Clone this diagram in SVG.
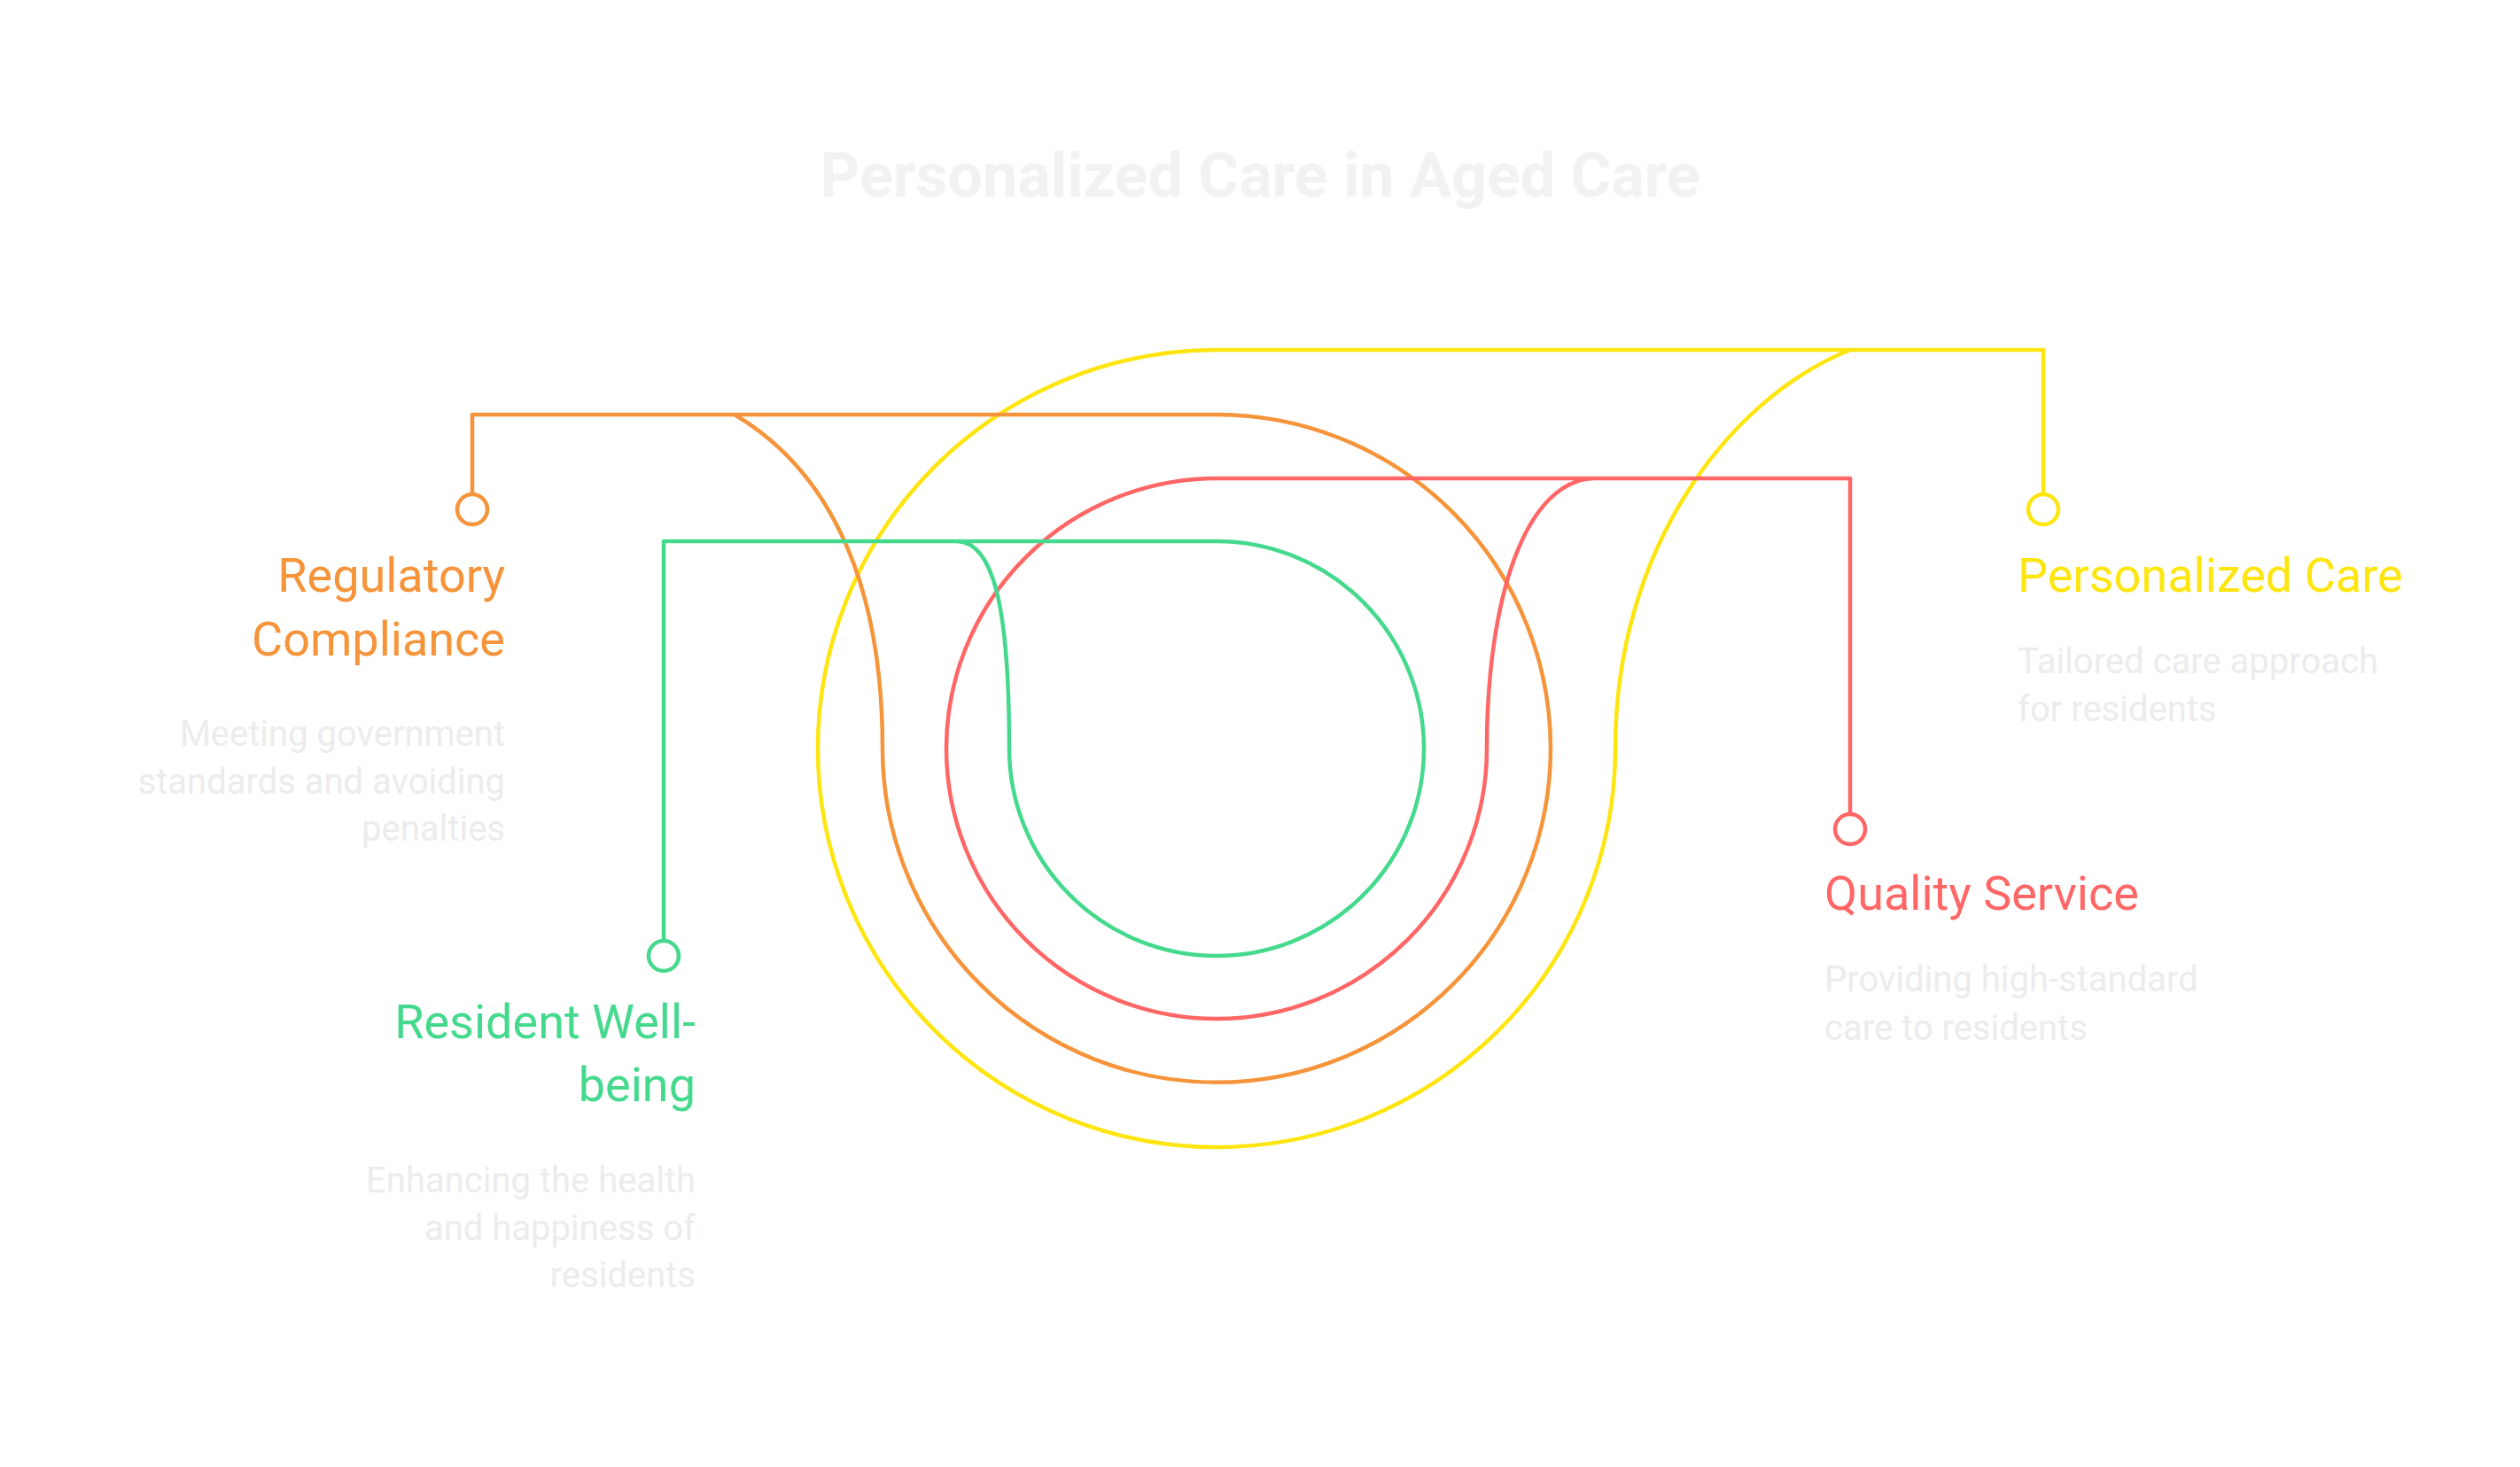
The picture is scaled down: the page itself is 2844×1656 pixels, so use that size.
<svg xmlns="http://www.w3.org/2000/svg" width="2844" height="1656" viewBox="0 0 2844 1656">
<style>
.l{fill:none;stroke-width:4.5;stroke-linejoin:round}
.d{fill:#fff;stroke-width:4.5}
.t{font-family:Roboto,"Liberation Sans",sans-serif;font-size:54px}
.s{font-family:Roboto,"Liberation Sans",sans-serif;font-size:40px;fill:#ececec}
.y{stroke:#FFE50F}.o{stroke:#F5943A}.r{stroke:#FF6666}.g{stroke:#45D98E}
</style>
<rect width="2844" height="1656" fill="#fff"/>
<text x="1422" y="222" text-anchor="middle" font-family="Roboto,'Liberation Sans',sans-serif" font-size="70" font-weight="bold" fill="#f2f2f2">Personalized Care in Aged Care</text>
<g id="connectors">
<path class="l y" d="M2306 557 V395 H1373 A450 450 0 0 0 923 845 A450 450 0 0 0 1823 845 C1823 620 1950 450 2088 395"/>
<path class="l o" d="M533 557 V468 H1373 A377 377 0 0 1 1750 845 A377 377 0 0 1 996 845 C996 640 925 525 829 468"/>
<path class="l r" d="M2088 918 V540 H1373 A305 305 0 0 0 1068 845 A305 305 0 0 0 1678 845 C1678 680 1720 540 1801 540"/>
<path class="l g" d="M749 1061 V611 H1373 A234 234 0 0 1 1607 845 A234 234 0 0 1 1139 845 C1139 680 1120 611 1079 611"/>
</g>
<g id="personalized-care">
<circle class="d y" cx="2306" cy="575" r="17"/>
<text class="t" x="2277" y="668" fill="#FFE50F">Personalized Care</text>
<text class="s" x="2277" y="760">Tailored care approach</text>
<text class="s" x="2277" y="814">for residents</text>
</g>
<g id="regulatory-compliance">
<circle class="d o" cx="533" cy="575" r="17"/>
<text class="t" x="570" y="668" text-anchor="end" fill="#F5943A">Regulatory</text>
<text class="t" x="570" y="740" text-anchor="end" fill="#F5943A">Compliance</text>
<text class="s" x="570" y="842" text-anchor="end">Meeting government</text>
<text class="s" x="570" y="896" text-anchor="end">standards and avoiding</text>
<text class="s" x="570" y="949" text-anchor="end">penalties</text>
</g>
<g id="quality-service">
<circle class="d r" cx="2088" cy="936" r="17"/>
<text class="t" x="2059" y="1027" fill="#FF6666">Quality Service</text>
<text class="s" x="2059" y="1119">Providing high-standard</text>
<text class="s" x="2059" y="1174">care to residents</text>
</g>
<g id="resident-wellbeing">
<circle class="d g" cx="749" cy="1079" r="17"/>
<text class="t" x="785" y="1172" text-anchor="end" fill="#45D98E">Resident Well-</text>
<text class="t" x="785" y="1243" text-anchor="end" fill="#45D98E">being</text>
<text class="s" x="785" y="1346" text-anchor="end">Enhancing the health</text>
<text class="s" x="785" y="1400" text-anchor="end">and happiness of</text>
<text class="s" x="785" y="1453" text-anchor="end">residents</text>
</g>
</svg>
